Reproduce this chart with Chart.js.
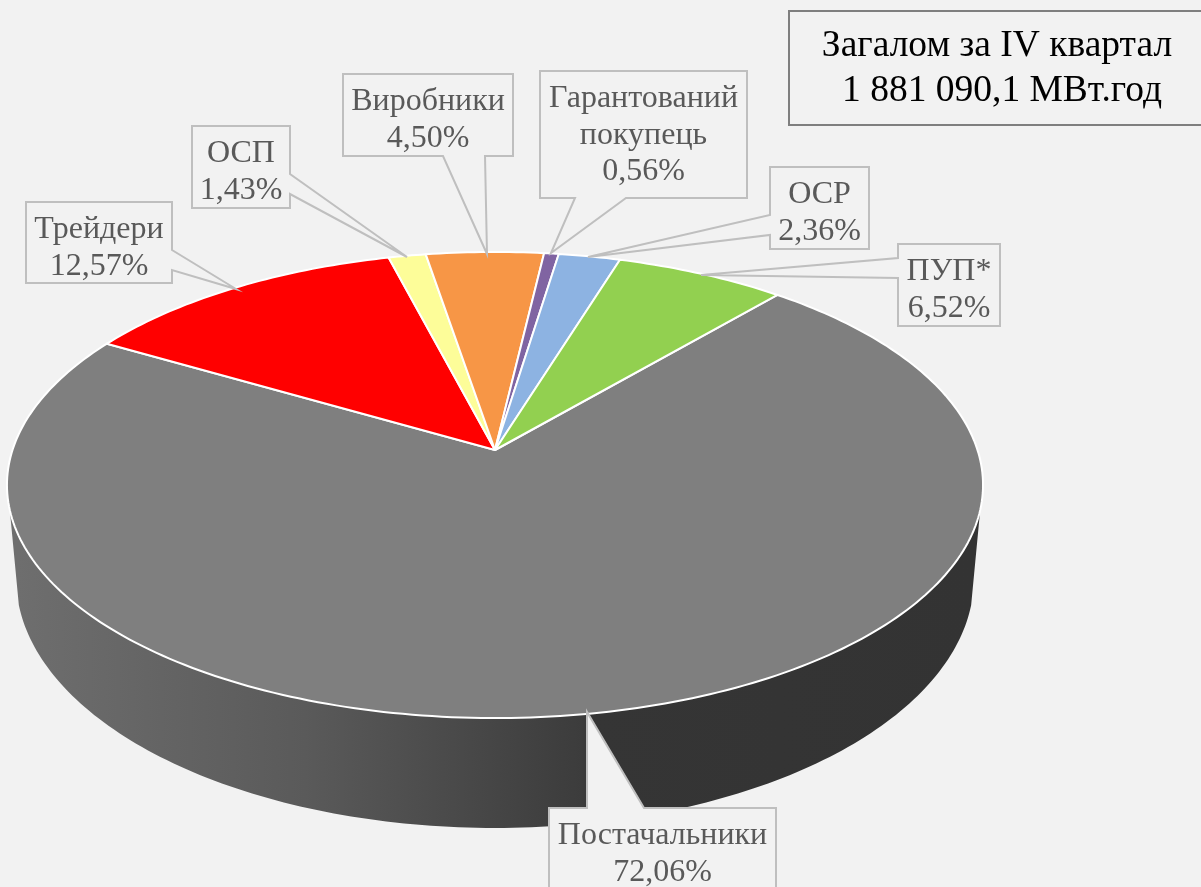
<!DOCTYPE html>
<html><head><meta charset="utf-8">
<style>html,body{margin:0;padding:0;background:#f2f2f2;overflow:hidden}canvas{display:block}</style>
<script src="https://cdn.jsdelivr.net/npm/chart.js@4"></script>
</head><body>
<canvas id="c" width="1201" height="887"></canvas>
<script>
const categories = ['Постачальники','Трейдери','ОСП','Виробники','Гарантований покупець','ОСР','ПУП*'];
const shares = [72.06,12.57,1.43,4.50,0.56,2.36,6.52];
const sliceColors = ['#7f7f7f','#ff0000','#fdfd99','#f79646','#8064a2','#8db3e2','#92d050'];
const titleLines = ['Загалом за IV квартал','1 881 090,1 МВт.год'];

// perspective of the pie disc: top face and bottom face
const CX = 495, PERSP = -0.1502;
const TOP = {a:482.5, b:160.2, c:450};
const BOT = {a:473.5, b:162.8, c:540.8};
const proj = (f,ang)=>{const u=Math.cos(ang),v=Math.sin(ang),w=1+PERSP*v;return [CX+f.a*u/w,(f.b*v+f.c)/w];};
const FRONT0 = 14.7*Math.PI/180, FRONT1 = 165.3*Math.PI/180;

class Arc3D extends Chart.ArcElement {
  static id='arc3d';
  draw(ctx){
    const {startAngle:s,endAngle:e}=this.getProps(['startAngle','endAngle']);
    const TAU=Math.PI*2;
    ctx.save();
    // side wall for the part of this slice that faces the viewer
    let a0=Math.max(s,FRONT0), a1=Math.min(e,FRONT1);
    if(a1>a0){
      const g=ctx.createLinearGradient(18,0,974,0);
      g.addColorStop(0,'#6e6e6e');g.addColorStop(0.3,'#5a5a5a');g.addColorStop(0.59,'#3c3c3c');
      g.addColorStop(0.6,'#353535');g.addColorStop(1,'#333333');
      ctx.beginPath();
      const N=160;
      for(let i=0;i<=N;i++){const p=proj(TOP,a0+(a1-a0)*i/N);i?ctx.lineTo(p[0],p[1]):ctx.moveTo(p[0],p[1]);}
      for(let i=N;i>=0;i--){const p=proj(BOT,a0+(a1-a0)*i/N);ctx.lineTo(p[0],p[1]);}
      ctx.closePath();ctx.fillStyle=g;ctx.fill();
    }
    // top face
    const n=Math.max(8,Math.ceil((e-s)/TAU*360));
    ctx.beginPath();ctx.moveTo(CX,TOP.c);
    for(let i=0;i<=n;i++){const p=proj(TOP,s+(e-s)*i/n);ctx.lineTo(p[0],p[1]);}
    ctx.closePath();
    ctx.fillStyle=this.options.backgroundColor;ctx.fill();
    ctx.lineJoin='round';ctx.lineWidth=this.options.borderWidth;ctx.strokeStyle=this.options.borderColor;ctx.stroke();
    ctx.restore();
  }
}
class Pie3DController extends Chart.PieController {
  static id='pie3d';
  static defaults={dataElementType:'arc3d'};
}
Chart.register(Arc3D,Pie3DController);

// callout shapes: box, and pointer (two base points on the box edge + tip)
const callouts=[
 {box:[549,808,776,900],edge:'top',base:[587,644],tip:[587,712]},
 {box:[26,202,172,283],edge:'right',base:[250,270],tip:[236,289]},
 {box:[192,126,290,208],edge:'right',base:[174,194],tip:[407,257]},
 {box:[343,74,513,156],edge:'bottom',base:[443,485],tip:[487,254]},
 {box:[540,71,747,198],edge:'bottom',base:[575,626],tip:[551,253]},
 {box:[770,167,869,249],edge:'left',base:[215,235],tip:[588,257]},
 {box:[898,244,1000,326],edge:'left',base:[258,278],tip:[701,275]}
];
const labelPlugin={id:'labels',afterDatasetsDraw(chart){
  const ctx=chart.ctx,ds=chart.data.datasets[0];
  ctx.save();
  chart.data.labels.forEach((lab,i)=>{
    const c=callouts[i],[x0,y0,x1,y1]=c.box,[b0,b1]=c.base,t=c.tip;
    ctx.beginPath();ctx.moveTo(x0,y0);
    if(c.edge==='top'){ctx.lineTo(b0,y0);ctx.lineTo(t[0],t[1]);ctx.lineTo(b1,y0);}
    ctx.lineTo(x1,y0);
    if(c.edge==='right'){ctx.lineTo(x1,b0);ctx.lineTo(t[0],t[1]);ctx.lineTo(x1,b1);}
    ctx.lineTo(x1,y1);
    if(c.edge==='bottom'){ctx.lineTo(b1,y1);ctx.lineTo(t[0],t[1]);ctx.lineTo(b0,y1);}
    ctx.lineTo(x0,y1);
    if(c.edge==='left'){ctx.lineTo(x0,b1);ctx.lineTo(t[0],t[1]);ctx.lineTo(x0,b0);}
    ctx.closePath();
    if(c.edge==='top'){ctx.fillStyle='#f2f2f2';ctx.fill();}
    ctx.strokeStyle='#bfbfbf';ctx.lineWidth=2;ctx.stroke();
    const lines=lab.split(' ').concat(ds.data[i].toFixed(2).replace('.',',')+'%');
    ctx.fillStyle='#595959';ctx.font='32px "Liberation Serif"';ctx.textAlign='center';ctx.textBaseline='alphabetic';
    const cx=(x0+x1)/2;
    lines.forEach((s,k)=>ctx.fillText(s,cx,y0+36+k*36.5));
  });
  // total box
  ctx.strokeStyle='#7f7f7f';ctx.lineWidth=2;
  ctx.strokeRect(789,11,430,114);
  ctx.fillStyle='#000';ctx.font='37.5px "Liberation Serif"';ctx.textAlign='center';
  ctx.fillText(titleLines[0],997,56);
  ctx.fillText(titleLines[1],1002,101);
  ctx.restore();
}};
new Chart(document.getElementById('c'),{
  type:'pie3d',
  data:{labels:categories,datasets:[{data:shares,backgroundColor:sliceColors,borderColor:'#ffffff',borderWidth:2}]},
  options:{responsive:false,animation:false,rotation:40.7,events:[],
    plugins:{legend:{display:false},tooltip:{enabled:false}}},
  plugins:[labelPlugin]
});
</script>
</body></html>
